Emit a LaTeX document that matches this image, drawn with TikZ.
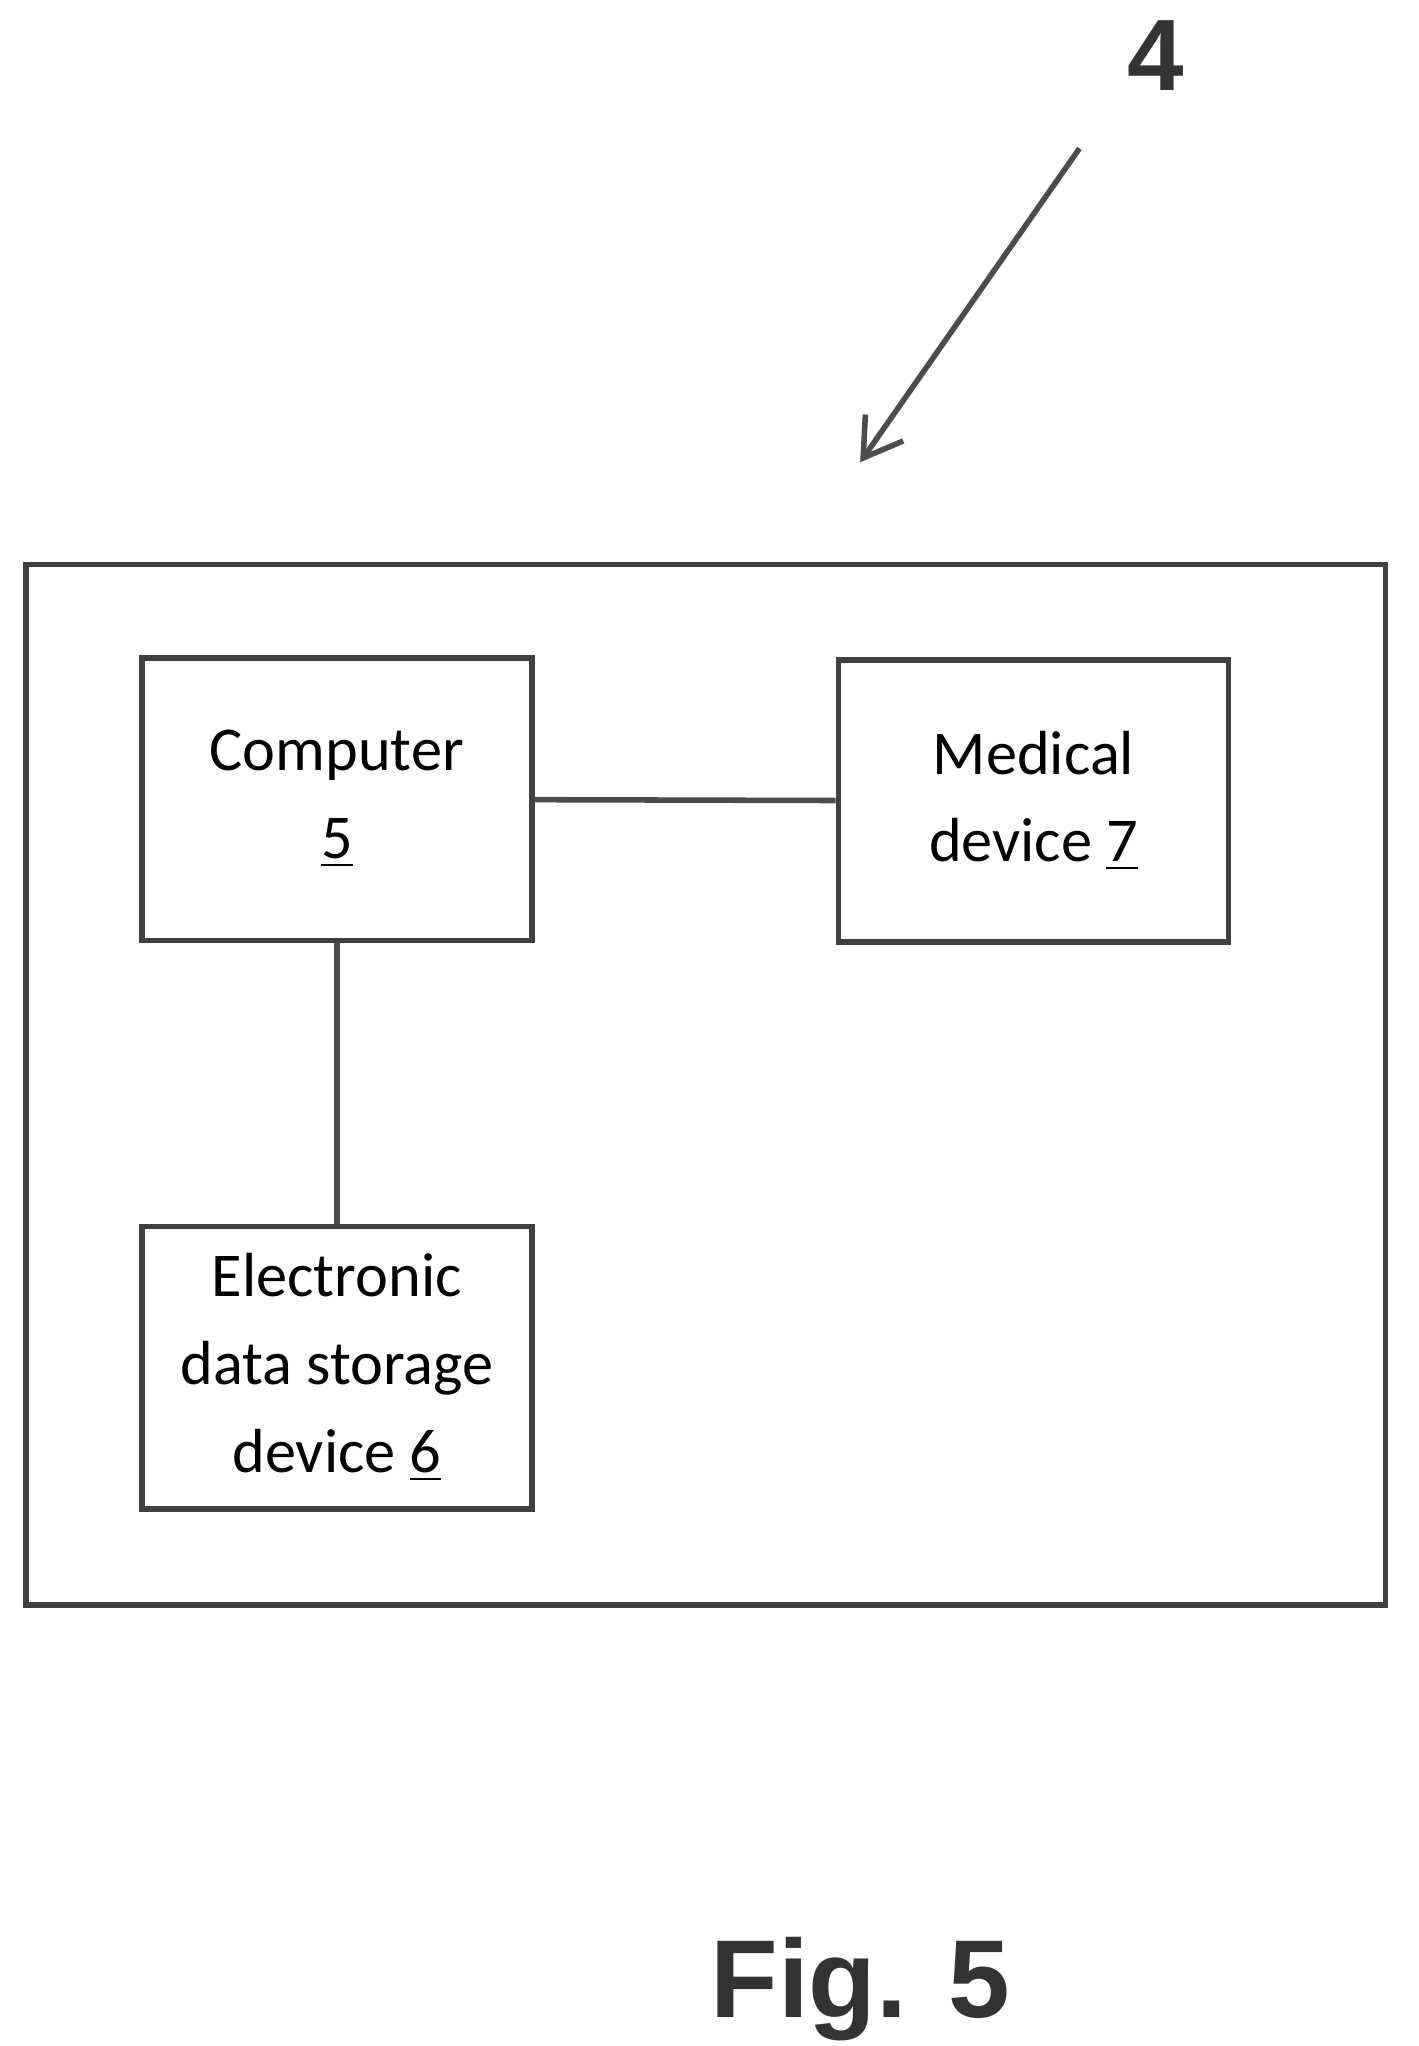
\documentclass[tikz,border=0pt]{standalone}
\usepackage{fontspec}
\setmainfont{Carlito}
\newfontfamily\figfont{Liberation Sans}
\usetikzlibrary{arrows.meta}
\begin{document}
\begin{tikzpicture}[
  blk/.style={draw=black!75, line width=1.2pt, minimum width=2.97cm, minimum height=2.15cm,
    align=center, font=\fontsize{13.5}{19}\selectfont},
  lnk/.style={draw=black!70, line width=1.2pt}]
  \useasboundingbox (0,0) rectangle (10.8,-15.58);
  \draw[black!75, line width=1.2pt] (0.2,-4.3) rectangle (10.55,-12.22);
  \node[blk] (comp) at (2.565,-6.085) {Computer\\\underline{5}};
  \node[blk] (med) at (7.87,-6.1) {Medical\\device \underline{7}};
  \node[blk] (stor) at (2.565,-10.415) {Electronic\\data storage\\device \underline{6}};
  \draw[lnk] (comp) -- (med);
  \draw[lnk] (comp) -- (stor);
  \node[font=\figfont\bfseries\fontsize{22}{24}\selectfont, black!80] (lbl) at (8.8,-0.42) {4};
  \coordinate (tail) at (8.22,-1.13);
  \coordinate (tip) at (6.55,-3.52);
  \draw[black!70, line width=1.2pt, -{Straight Barb[length=8pt,width=10pt]}] (tail) -- (tip);
  \node[font=\figfont\bfseries\fontsize{24}{26}\selectfont, black!80] (fig) at (6.55,-15.15) {Fig. 5};
\end{tikzpicture}
\end{document}
